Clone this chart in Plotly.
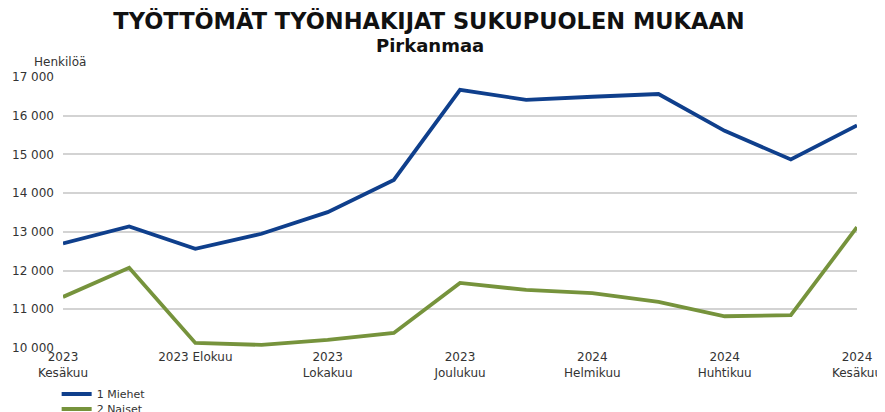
import plotly.graph_objects as go

months = ["2023 Kesäkuu", "2023 Heinäkuu", "2023 Elokuu", "2023 Syyskuu", "2023 Lokakuu",
          "2023 Marraskuu", "2023 Joulukuu", "2024 Tammikuu", "2024 Helmikuu", "2024 Maaliskuu",
          "2024 Huhtikuu", "2024 Toukokuu", "2024 Kesäkuu"]
miehet = [12700, 13140, 12560, 12950, 13510, 14340, 16670, 16410, 16490, 16560, 15610, 14870, 15750]
naiset = [11320, 12070, 10130, 10080, 10210, 10390, 11680, 11500, 11420, 11190, 10820, 10850, 13120]
tick_months = ["2023 Kesäkuu", "2023 Elokuu", "2023 Lokakuu", "2023 Joulukuu",
               "2024 Helmikuu", "2024 Huhtikuu", "2024 Kesäkuu"]
tick_labels = ["2023<br>Kesäkuu", "2023 Elokuu", "2023<br>Lokakuu", "2023<br>Joulukuu",
               "2024<br>Helmikuu", "2024<br>Huhtikuu", "2024<br>Kesäkuu"]
y_ticks = [10000, 11000, 12000, 13000, 14000, 15000, 16000, 17000]

FONT = "DejaVu Sans"
# page body has an 8px margin; figure sized so that it fills the 885x412 window
W, H = 877, 404

fig = go.Figure()
fig.add_trace(go.Scatter(x=months, y=miehet, mode="lines", name="1 Miehet",
                         line=dict(color="#0F3F8C", width=3.8), legend="legend"))
fig.add_trace(go.Scatter(x=months, y=naiset, mode="lines", name="2 Naiset",
                         line=dict(color="#76933C", width=3.8), legend="legend2"))

leg_common = dict(orientation="v", xanchor="left", yanchor="middle",
                  font=dict(family=FONT, size=11, color="#333333"),
                  bgcolor="rgba(0,0,0,0)")

fig.update_layout(
    width=W, height=H,
    margin=dict(l=55, r=28, t=69, b=64, autoexpand=False),
    paper_bgcolor="white", plot_bgcolor="white",
    separators=", ",
    font=dict(family=FONT, size=12, color="#333333"),
    title=dict(text="<b>TYÖTTÖMÄT TYÖNHAKIJAT SUKUPUOLEN MUKAAN</b>",
               xref="container", yref="container", x=421 / W, y=1 - 13 / H,
               xanchor="center", yanchor="middle",
               font=dict(family=FONT, size=22.5, color="#111111")),
    showlegend=True,
    legend=dict(x=-0.008, y=-(394 - 348) / 271, **leg_common),
    legend2=dict(x=-0.008, y=-(409 - 348) / 271, **leg_common),
    xaxis=dict(type="category", categoryorder="array", categoryarray=months,
               range=[0, 12], tickmode="array", tickvals=tick_months, ticktext=tick_labels,
               showgrid=False, zeroline=False, showline=False, ticks="",
               tickfont=dict(family=FONT, size=12, color="#333333")),
    yaxis=dict(range=[10000, 17000], tickvals=y_ticks, tickformat=",d",
               showgrid=True, gridcolor="#D3D3D3", gridwidth=1.5, zeroline=False,
               showline=False, ticks="", ticklabelstandoff=8,
               tickfont=dict(family=FONT, size=12, color="#333333")),
    annotations=[
        dict(text="<b>Pirkanmaa</b>", xref="paper", yref="paper", x=(430 - 63) / 794,
             y=1 + (77 - 45) / 271, xanchor="center", yanchor="middle", showarrow=False,
             font=dict(family=FONT, size=18, color="#111111")),
        dict(text="Henkilöä", xref="paper", yref="paper", x=(32 - 63) / 794,
             y=1 + (77 - 62) / 271, xanchor="left", yanchor="middle", showarrow=False,
             font=dict(family=FONT, size=12, color="#333333")),
    ],
)

fig.write_html("out.html")
